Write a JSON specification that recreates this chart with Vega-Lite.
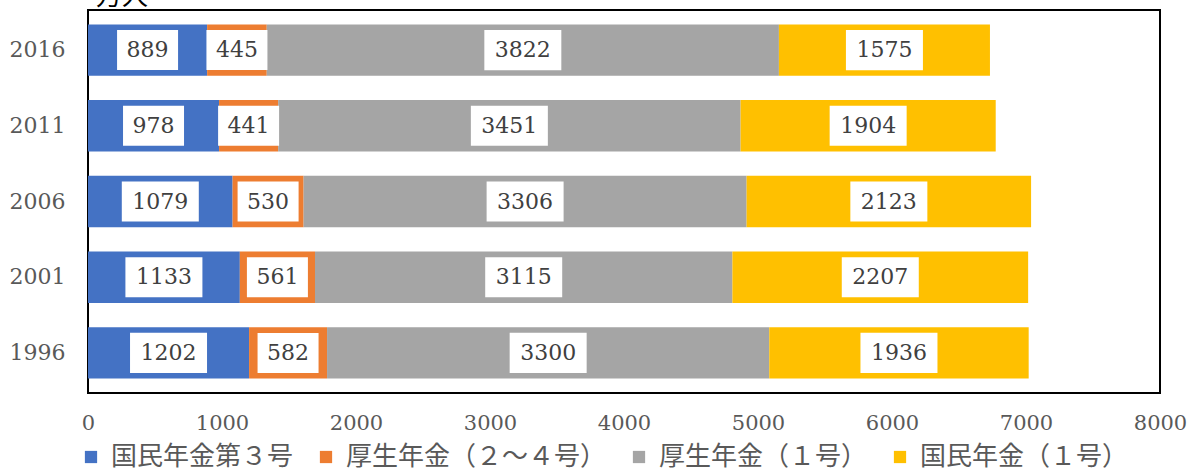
{
  "$schema": "https://vega.github.io/schema/vega-lite/v6.json",
  "width": 1072,
  "height": 383,
  "autosize": "none",
  "padding": {"left": 88, "top": 10, "right": 31, "bottom": 75},
  "background": "white",
  "title": {"text": "万人", "anchor": "start", "frame": "group", "font": "Noto Sans CJK JP", "fontSize": 26, "fontWeight": "normal", "color": "black", "offset": 0, "dx": 8},
  "config": {"view": {"stroke": "black", "strokeWidth": 2}, "font": "DejaVu Serif"},
  "data": {"values": [
    {"year": "2016", "cat": "国民年金第３号", "k": 1, "value": 889},
    {"year": "2016", "cat": "厚生年金（２～４号）", "k": 2, "value": 445},
    {"year": "2016", "cat": "厚生年金（１号）", "k": 3, "value": 3822},
    {"year": "2016", "cat": "国民年金（１号）", "k": 4, "value": 1575},
    {"year": "2011", "cat": "国民年金第３号", "k": 1, "value": 978},
    {"year": "2011", "cat": "厚生年金（２～４号）", "k": 2, "value": 441},
    {"year": "2011", "cat": "厚生年金（１号）", "k": 3, "value": 3451},
    {"year": "2011", "cat": "国民年金（１号）", "k": 4, "value": 1904},
    {"year": "2006", "cat": "国民年金第３号", "k": 1, "value": 1079},
    {"year": "2006", "cat": "厚生年金（２～４号）", "k": 2, "value": 530},
    {"year": "2006", "cat": "厚生年金（１号）", "k": 3, "value": 3306},
    {"year": "2006", "cat": "国民年金（１号）", "k": 4, "value": 2123},
    {"year": "2001", "cat": "国民年金第３号", "k": 1, "value": 1133},
    {"year": "2001", "cat": "厚生年金（２～４号）", "k": 2, "value": 561},
    {"year": "2001", "cat": "厚生年金（１号）", "k": 3, "value": 3115},
    {"year": "2001", "cat": "国民年金（１号）", "k": 4, "value": 2207},
    {"year": "1996", "cat": "国民年金第３号", "k": 1, "value": 1202},
    {"year": "1996", "cat": "厚生年金（２～４号）", "k": 2, "value": 582},
    {"year": "1996", "cat": "厚生年金（１号）", "k": 3, "value": 3300},
    {"year": "1996", "cat": "国民年金（１号）", "k": 4, "value": 1936}
  ]},
  "transform": [
    {"stack": "value", "groupby": ["year"], "sort": [{"field": "k", "order": "ascending"}], "as": ["v0", "v1"]},
    {"calculate": "(datum.v0 + datum.v1) / 2", "as": "mid"}
  ],
  "encoding": {
    "y": {
      "field": "year", "type": "nominal",
      "sort": ["2016", "2011", "2006", "2001", "1996"],
      "scale": {"paddingInner": 0.32, "paddingOuter": 0.19},
      "axis": {"title": null, "domain": false, "ticks": false, "labelFontSize": 22, "labelColor": "#595959", "labelPadding": 23, "labelFont": "DejaVu Serif"}
    }
  },
  "layer": [
    {
      "mark": {"type": "bar"},
      "encoding": {
        "x": {"field": "v0", "type": "quantitative", "scale": {"domain": [0, 8000], "nice": false},
          "axis": {"title": null, "domain": false, "ticks": false, "grid": false, "format": "d", "values": [0, 1000, 2000, 3000, 4000, 5000, 6000, 7000, 8000], "labelFontSize": 21, "labelColor": "#595959", "labelPadding": 19, "labelFlush": false, "labelFont": "DejaVu Serif"}},
        "x2": {"field": "v1"},
        "color": {
          "field": "cat", "type": "nominal",
          "scale": {"domain": ["国民年金第３号", "厚生年金（２～４号）", "厚生年金（１号）", "国民年金（１号）"], "range": ["#4472C4", "#ED7D31", "#A5A5A5", "#FFC000"]},
          "legend": {"title": null, "orient": "none", "direction": "horizontal", "legendX": -10, "legendY": 434, "padding": 0, "symbolType": "square", "symbolSize": 150, "symbolStrokeWidth": 0, "labelFont": "Noto Sans CJK JP", "labelFontSize": 26, "labelColor": "#595959", "labelLimit": 400, "labelOffset": 7, "columnPadding": 19}
        }
      }
    },
    {
      "mark": {"type": "point", "filled": true, "color": "white", "opacity": 1, "strokeWidth": 0},
      "encoding": {
        "x": {"field": "mid", "type": "quantitative"},
        "shape": {"condition": {"test": "datum.value >= 1000", "value": "M-1,-0.52L1,-0.52L1,0.52L-1,0.52Z"}, "value": "M-1,-0.656L1,-0.656L1,0.656L-1,0.656Z"},
        "size": {"condition": {"test": "datum.value >= 1000", "value": 5929}, "value": 3721}
      }
    },
    {
      "mark": {"type": "text", "fontSize": 22, "color": "#404040", "font": "DejaVu Serif"},
      "encoding": {
        "x": {"field": "mid", "type": "quantitative"},
        "text": {"field": "value", "type": "nominal"}
      }
    }
  ]
}
